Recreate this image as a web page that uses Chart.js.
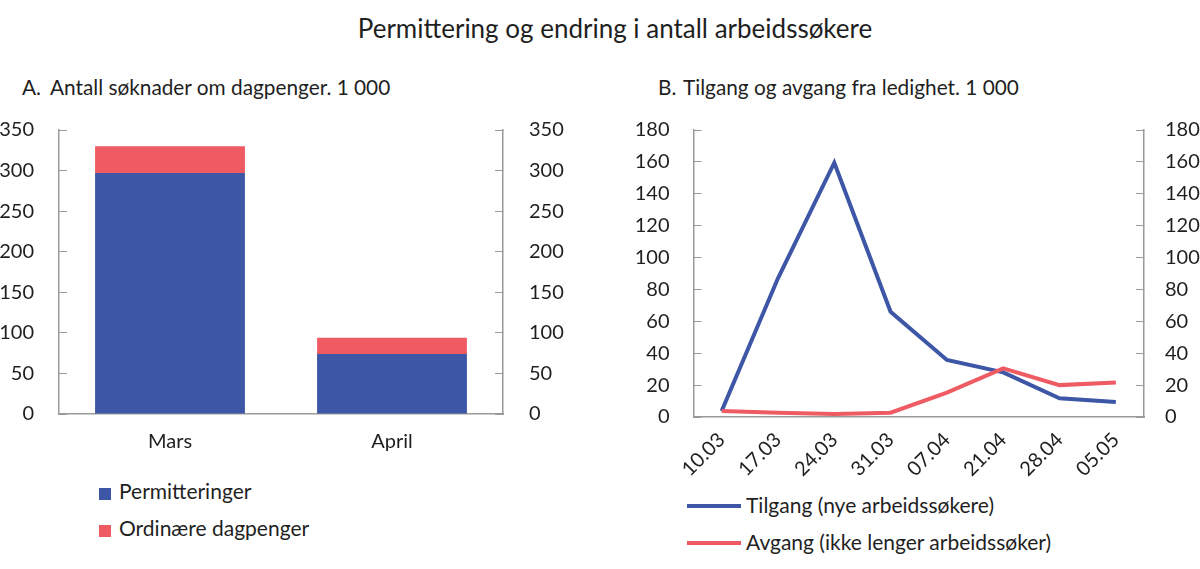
<!DOCTYPE html>
<html>
<head>
<meta charset="utf-8">
<script src="https://cdn.jsdelivr.net/npm/chart.js@4.4.1/dist/chart.umd.min.js"></script>
<style>
    body { margin: 0; width: 1200px; height: 569px; background: #fff; position: relative; overflow: hidden;
           font-family: "Lato", sans-serif; color: #1f1f1f; }
    .txt { position: absolute; white-space: nowrap; }
    canvas { position: absolute; }
    .key { position: absolute; }
</style>
</head>
<body>

<div class="txt" style="left:115px; width:1000px; top:13px; line-height:30px; font-size:26px; text-align:center;">Permittering og endring i antall arbeidssøkere</div>

<div class="txt" style="left:22px; top:75px; line-height:24px; font-size:20.8px;">A.</div>
<div class="txt" style="left:50px; top:75px; line-height:24px; font-size:20.8px;">Antall søknader om dagpenger. 1 000</div>
<div class="txt" style="left:658px; top:75px; line-height:24px; font-size:20.8px;">B.</div>
<div class="txt" style="left:683px; top:75px; line-height:24px; font-size:20.8px;">Tilgang og avgang fra ledighet. 1 000</div>

<canvas id="chartBars" width="580" height="345" style="left:0; top:110px; width:580px; height:345px;"></canvas>
<canvas id="chartLines" width="600" height="380" style="left:600px; top:110px; width:600px; height:380px;"></canvas>

<div id="legendBars"></div>
<div id="legendLines"></div>

<script>
// --- data ---
const barCategories = ["Mars", "April"];
const permitteringer = [297, 74];
const ordinaere = [33, 20];
const barNames = ["Permitteringer", "Ordinære dagpenger"];

const lineDates = ["10.03", "17.03", "24.03", "31.03", "07.04", "21.04", "28.04", "05.05"];
const tilgang = [3.8, 87, 159.5, 66, 35.8, 28, 11.7, 9.4];
const avgang = [3.8, 2.7, 1.9, 2.7, 15.3, 30.5, 20, 21.7];
const lineNames = ["Tilgang (nye arbeidssøkere)", "Avgang (ikke lenger arbeidssøker)"];

const barAxisMax = 350, barAxisStep = 50;
const lineAxisMax = 180, lineAxisStep = 20;

// --- style ---
const BLUE = "#3d56a5";
const RED = "#ef5b63";
const AXIS = "#9a9a9a";
const TEXT = "#1f1f1f";

Chart.defaults.font.family = "Lato";
Chart.defaults.font.size = 20;
Chart.defaults.color = TEXT;
Chart.defaults.animation = false;

// y axis with ticks pointing into the plot
function yAxis(position, max, step, width, padding) {
    return {
        position: position,
        min: 0,
        max: max,
        ticks: { stepSize: step, padding: padding, color: TEXT },
        grid: { drawOnChartArea: false, drawTicks: true, tickLength: -8, color: AXIS, lineWidth: 1 },
        border: { color: AXIS, width: 1.5 },
        afterFit: s => {
            s.width = width;
            // tick padding is only meant horizontally here
            s.paddingTop = 0;
            s.paddingBottom = 0;
        }
    };
}

function xAxis(height, padding, extra) {
    return Object.assign({
        grid: { display: true, drawOnChartArea: false, drawTicks: false },
        border: { color: AXIS, width: 1.5 },
        ticks: { padding: padding, color: TEXT, autoSkip: false },
        afterFit: s => { s.height = height; }
    }, extra || {});
}

// ----------------------
// A. Søyler
// ----------------------
const yBars = yAxis("left", barAxisMax, barAxisStep, 59, 33);
yBars.stacked = true;

new Chart(document.getElementById("chartBars"), {
    type: "bar",
    data: {
        labels: barCategories,
        datasets: [
            { label: barNames[0], data: permitteringer, backgroundColor: BLUE, yAxisID: "y" },
            { label: barNames[1], data: ordinaere, backgroundColor: RED, yAxisID: "y" }
        ]
    },
    options: {
        responsive: false,
        layout: { padding: { top: 20, left: 0, right: 0, bottom: 0 } },
        datasets: { bar: { categoryPercentage: 1, barPercentage: 0.675 } },
        plugins: { legend: { display: false }, tooltip: { enabled: false } },
        scales: {
            x: xAxis(41, 16, { stacked: true }),
            y: yBars,
            yR: yAxis("right", barAxisMax, barAxisStep, 77, 34)
        }
    }
});

// ----------------------
// B. Linjer
// ----------------------
new Chart(document.getElementById("chartLines"), {
    type: "line",
    data: {
        labels: lineDates,
        datasets: [
            { label: lineNames[0], data: tilgang, borderColor: BLUE, borderWidth: 4, pointRadius: 0, tension: 0, order: 1 },
            { label: lineNames[1], data: avgang, borderColor: RED, borderWidth: 4, pointRadius: 0, tension: 0, order: 0 }
        ]
    },
    options: {
        responsive: false,
        layout: { padding: { top: 20, left: 0, right: 0, bottom: 0 } },
        plugins: { legend: { display: false }, tooltip: { enabled: false } },
        scales: {
            x: xAxis(73, 11, { offset: true, ticks: { padding: 11, color: TEXT, autoSkip: false, minRotation: 45, maxRotation: 45 } }),
            y: yAxis("left", lineAxisMax, lineAxisStep, 93.5, 32),
            yR: yAxis("right", lineAxisMax, lineAxisStep, 56, 29)
        }
    }
});

// --- legends (text kept as HTML) ---
function addKey(parent, swatchStyle, textLeft, centerY, label) {
    const sw = document.createElement("div");
    sw.className = "key";
    sw.style.cssText = swatchStyle;
    parent.appendChild(sw);
    const t = document.createElement("div");
    t.className = "txt";
    t.style.cssText = `left:${textLeft}px; top:${centerY - 12}px; line-height:24px; font-size:21px;`;
    t.textContent = label;
    parent.appendChild(t);
}

const lb = document.getElementById("legendBars");
addKey(lb, `left:99px; top:488px; width:12px; height:12px; background:${BLUE};`, 119, 491, barNames[0]);
addKey(lb, `left:99px; top:525px; width:12px; height:12px; background:${RED};`, 119, 528, barNames[1]);

const ll = document.getElementById("legendLines");
addKey(ll, `left:687px; top:504px; width:54px; height:4px; background:${BLUE};`, 746, 505, lineNames[0]);
addKey(ll, `left:687px; top:541px; width:54px; height:4px; background:${RED};`, 746, 542, lineNames[1]);
</script>
</body>
</html>
